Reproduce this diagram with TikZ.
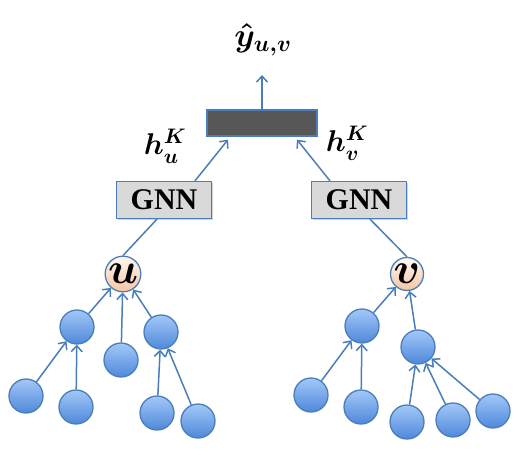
\RequirePackage{fix-cm}
\documentclass[tikz,border=0pt]{standalone}
\usepackage{amsmath}
\usepackage{fontspec}
\newfontfamily\gnnfont{Liberation Serif}
\usetikzlibrary{arrows.meta,shadows}

\definecolor{edgeblue}{HTML}{4A7EBB}
\definecolor{leaftop}{HTML}{A3C8F8}
\definecolor{leafbot}{HTML}{4F88DA}
\definecolor{roottop}{HTML}{FFF8F3}
\definecolor{rootbot}{HTML}{F6C4A2}
\definecolor{boxgray}{HTML}{D9D9D9}
\definecolor{pooldark}{HTML}{575757}

\tikzset{
	leaf/.style={circle, draw=edgeblue, line width=1.3pt, minimum size=34pt, inner sep=0pt,
		top color=leaftop, bottom color=leafbot},
	root/.style={circle, draw=edgeblue, line width=1.3pt, minimum size=33pt, inner sep=0pt,
		top color=roottop, bottom color=rootbot, font=\fontsize{44}{46}\selectfont},
	gnnbox/.style={draw=edgeblue, line width=1.3pt, fill=boxgray, minimum width=95pt, minimum height=37pt,
		inner sep=0pt, font=\gnnfont\bfseries\fontsize{30}{32}\selectfont,
		drop shadow={opacity=0.35, shadow xshift=1.5pt, shadow yshift=-1.5pt}},
	link/.style={draw=edgeblue, line width=1.5pt},
	lbl/.style={font=\fontsize{30}{34}\selectfont\boldmath}
}

\begin{document}
\begin{tikzpicture}[x=1pt, y=-1pt]
	\tikzset{>={Straight Barb[length=6pt, width=11pt]}}
	\useasboundingbox (0,0) rectangle (518,454);

	% pooled output
	\node[draw=edgeblue, line width=1.3pt, fill=pooldark, minimum width=110pt, minimum height=26pt] (pool) at (262,123) {};
	\node[lbl, font=\fontsize{33}{36}\selectfont\boldmath] (yhat) at (263,40) {$\hat{y}_{u,v}$};
	\coordinate (ytip) at (262,75);
	\draw[link,->] (pool.north) -- (ytip);

	\node[lbl] (hu) at (165,146) {$h_u^K$};
	\node[lbl] (hv) at (347,143) {$h_v^K$};

	% encoders
	\node[gnnbox] (gnnu) at (164,200) {GNN};
	\node[gnnbox] (gnnv) at (359,200) {GNN};

	% roots
	\node[root] (u) at (123,274) {$\boldsymbol{u}$};
	\node[root] (v) at (407,274) {$\boldsymbol{v}$};

	\draw[link] (u.north) -- ([xshift=-7pt]gnnu.south);
	\draw[link,->] ([xshift=31pt]gnnu.north) -- ([xshift=-34pt, yshift=-3pt]pool.south);
	\draw[link] (v.north) -- ([xshift=11pt]gnnv.south);
	\draw[link,->] ([xshift=-29pt]gnnv.north) -- ([xshift=35pt, yshift=-3pt]pool.south);

	% neighbourhood of u
	\node[leaf] (ua) at (77,327) {};
	\node[leaf] (ub) at (121,360) {};
	\node[leaf] (uc) at (161,332) {};
	\node[leaf] (ua1) at (26,396) {};
	\node[leaf] (ua2) at (76,407) {};
	\node[leaf] (uc1) at (157,413) {};
	\node[leaf] (uc2) at (198,421) {};

	\draw[link,->] (ua) -- (u);
	\draw[link,->] (ub) -- (u);
	\draw[link,->] (uc) -- (u);
	\draw[link,->] (ua1) -- (ua);
	\draw[link,->] (ua2) -- (ua);
	\draw[link,->] (uc1) -- (uc);
	\draw[link,->] (uc2) -- (uc);

	% neighbourhood of v
	\node[leaf] (va) at (362,326) {};
	\node[leaf] (vb) at (418,347) {};
	\node[leaf] (va1) at (311,395) {};
	\node[leaf] (va2) at (361,407) {};
	\node[leaf] (vb1) at (407,422) {};
	\node[leaf] (vb2) at (453,420) {};
	\node[leaf] (vb3) at (493,411) {};

	\draw[link,->] (va) -- (v);
	\draw[link,->] (vb) -- (v);
	\draw[link,->] (va1) -- (va);
	\draw[link,->] (va2) -- (va);
	\draw[link,->] (vb1) -- (vb);
	\draw[link,->] (vb2) -- (vb);
	\draw[link,->] (vb3) -- (vb);

\end{tikzpicture}
\end{document}
